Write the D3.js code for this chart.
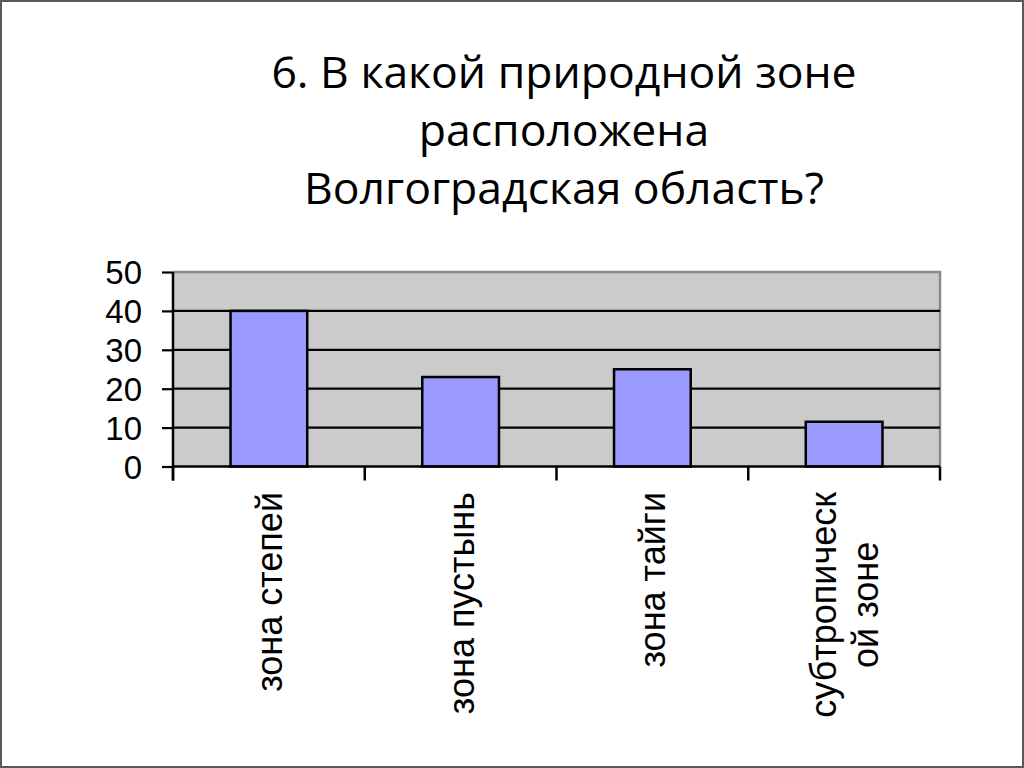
<!DOCTYPE html>
<html>
<head>
<meta charset="utf-8">
<script src="https://cdn.jsdelivr.net/npm/d3@7"></script>
<style>
html,body{margin:0;padding:0;background:#fff;}
svg{display:block;}
</style>
</head>
<body>
<svg id="chart" width="1024" height="768"></svg>
<script>
const titleLines = ["6. В какой природной зоне", "расположена", "Волгоградская область?"];
const categories = ["зона степей", "зона пустынь", "зона тайги", "субтропическ\nой зоне"];
const values = [40, 23, 25, 11.5];
const yTicks = [0, 10, 20, 30, 40, 50];

const svg = d3.select("#chart");
const W = 1024, H = 768;
const plot = {left: 173, right: 940, top: 272, bottom: 466.5};

// slide frame
svg.append("rect").attr("x", 1).attr("y", 1).attr("width", W - 2).attr("height", H - 2)
  .attr("fill", "#fff").attr("stroke", "#5a5a5a").attr("stroke-width", 2);

// title
const title = svg.append("text").attr("text-anchor", "middle")
  .attr("font-family", "'Open Sans', sans-serif").attr("font-size", 44.5).attr("fill", "#000");
titleLines.forEach((t, i) => {
  title.append("tspan").attr("x", 564).attr("y", 88 + i * 58).text(t);
});

const x = d3.scaleBand().domain(categories).range([plot.left, plot.right])
  .paddingInner(0.6).paddingOuter(0.3);
const y = d3.scaleLinear().domain([0, 50]).range([plot.bottom, plot.top]);

// plot background
svg.append("rect").attr("x", plot.left).attr("y", plot.top)
  .attr("width", plot.right - plot.left).attr("height", plot.bottom - plot.top)
  .attr("fill", "#cbcbcb");
// top & right border (gray)
svg.append("path")
  .attr("d", `M${plot.left},${plot.top}H${plot.right}V${plot.bottom}`)
  .attr("fill", "none").attr("stroke", "#8a8a8a").attr("stroke-width", 2.5);

// gridlines
svg.append("g").selectAll("line").data(yTicks.filter(v => v > 0 && v < 50)).join("line")
  .attr("x1", plot.left).attr("x2", plot.right)
  .attr("y1", d => y(d)).attr("y2", d => y(d))
  .attr("stroke", "#000").attr("stroke-width", 2.2);

// bars
svg.append("g").selectAll("rect").data(values).join("rect")
  .attr("x", (d, i) => x(categories[i]))
  .attr("width", x.bandwidth())
  .attr("y", d => y(d))
  .attr("height", d => y(0) - y(d))
  .attr("fill", "#9999ff").attr("stroke", "#000").attr("stroke-width", 2.5);

// y axis
const yAxis = svg.append("g").attr("transform", `translate(${plot.left},0)`)
  .call(d3.axisLeft(y).tickValues(yTicks).tickSize(11).tickPadding(20).tickFormat(d3.format("d")));
yAxis.select(".domain").attr("stroke", "#000").attr("stroke-width", 2.5)
  .attr("d", `M0,${plot.top}V${plot.bottom + 14}`);
yAxis.selectAll(".tick line").attr("stroke", "#000").attr("stroke-width", 2.2);
yAxis.selectAll(".tick text").attr("font-family", "'Liberation Sans', Arial, sans-serif")
  .attr("font-size", 33).attr("fill", "#000").attr("dy", "0.36em");

// x axis line and ticks at band boundaries
const bounds = categories.map(c => x(c) - x.step() * x.paddingInner() / 2);
bounds.push(plot.right);
bounds[0] = plot.left;
svg.append("line").attr("x1", plot.left).attr("x2", plot.right)
  .attr("y1", plot.bottom).attr("y2", plot.bottom)
  .attr("stroke", "#000").attr("stroke-width", 2.5);
svg.append("g").selectAll("line").data(bounds).join("line")
  .attr("x1", d => d).attr("x2", d => d)
  .attr("y1", plot.bottom).attr("y2", plot.bottom + 14)
  .attr("stroke", "#000").attr("stroke-width", 2.5);

// x labels rotated
const labelTop = 492;
const lineGap = 42;
categories.forEach(c => {
  const lines = c.split("\n");
  const cx = x(c) + x.bandwidth() / 2;
  const g = svg.append("g");
  const texts = lines.map((ln, j) => g.append("text")
    .attr("font-family", "'Liberation Sans', Arial, sans-serif")
    .attr("font-size", 36).attr("fill", "#000").attr("text-anchor", "middle").text(ln));
  const lens = texts.map(t => t.node().getComputedTextLength());
  const maxLen = d3.max(lens);
  const midY = labelTop + maxLen / 2;
  texts.forEach((t, j) => {
    const lx = cx + (j - (lines.length - 1) / 2) * lineGap;
    t.attr("transform", `translate(${lx},${midY}) rotate(-90)`).attr("dy", "0.36em");
  });
});
</script>
</body>
</html>
